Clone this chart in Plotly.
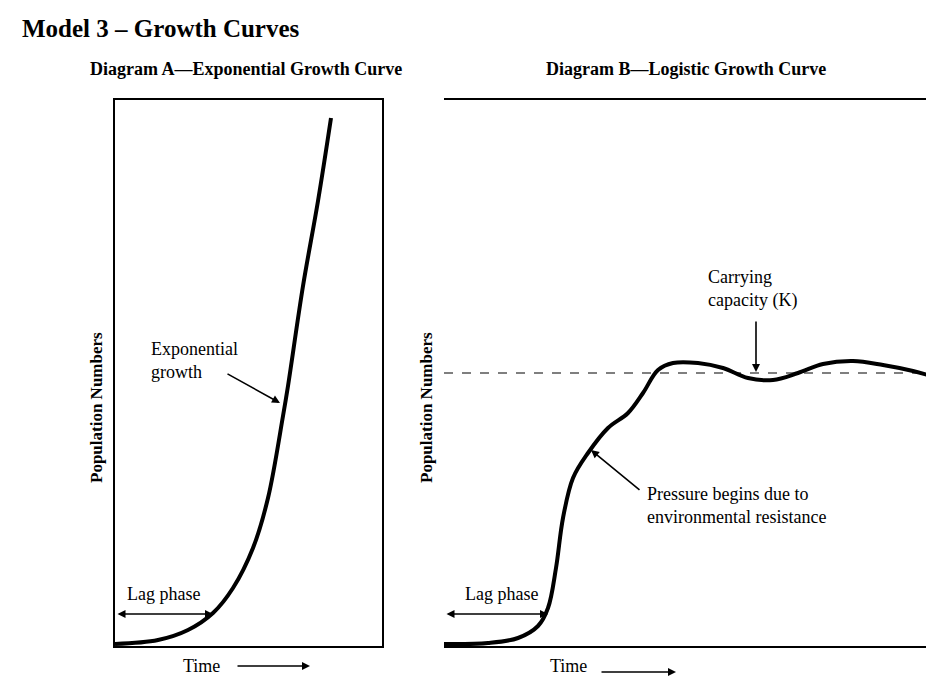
import plotly.graph_objects as go

W, H = 934, 676
FONT = "Liberation Serif"

# curve values (time units, population units)
a_time = [0, 43, 73, 98, 118, 138, 153, 168, 173, 188, 203, 216]
a_pop = [2, 6, 16, 33, 58, 98, 148, 230, 260, 360, 445, 528]

b_time = [0, 44, 74, 94, 104, 112, 119, 129, 144, 164, 184, 199, 214, 229,
          254, 279, 304, 329, 354, 379, 409, 439, 469, 494]
b_pop = [2, 3, 8, 20, 38, 78, 128, 168, 193, 218, 233, 253, 276, 283,
         283, 278, 268, 266, 273, 282, 285, 281, 275, 268]
capacity = 273


def px(x):
    return x / W


def py(y):
    return 1 - y / H


fig = go.Figure()
fig.add_trace(go.Scatter(x=a_time, y=a_pop, mode="lines", line=dict(color="black", width=4, shape="spline"),
                         xaxis="x", yaxis="y", showlegend=False))
fig.add_trace(go.Scatter(x=b_time, y=b_pop, mode="lines", line=dict(color="black", width=4, shape="spline"),
                         xaxis="x2", yaxis="y2", showlegend=False))
fig.add_trace(go.Scatter(x=[0, 494], y=[capacity, capacity], mode="lines",
                         line=dict(color="black", width=1.2, dash="dash"),
                         xaxis="x2", yaxis="y2", showlegend=False))

ax = dict(showgrid=False, zeroline=False, showticklabels=False, ticks="",
          showline=True, linecolor="black", linewidth=1.5, mirror=True)
fig.update_layout(
    width=W, height=H, margin=dict(l=0, r=0, t=0, b=0),
    paper_bgcolor="white", plot_bgcolor="white",
    font=dict(family=FONT, color="black"),
    xaxis=dict(ax, domain=[px(107), px(374)], range=[0, 267]),
    yaxis=dict(ax, domain=[py(638), py(92)], range=[0, 546]),
    xaxis2=dict(ax, domain=[px(436), px(930)], range=[0, 494]),
    yaxis2=dict(ax, domain=[py(638), py(92)], range=[0, 546]),
)


def text(x, y, s, size=17, bold=False, angle=0, xanchor="center"):
    fig.add_annotation(xref="paper", yref="paper", x=px(x), y=py(y), text=f"<b>{s}</b>" if bold else s,
                       showarrow=False, font=dict(size=size, family=FONT), textangle=angle,
                       xanchor=xanchor, yanchor="middle", align="left")


def arrow(x0, y0, x1, y1, both=False):
    fig.add_annotation(xref="paper", yref="paper", axref="pixel", ayref="pixel",
                       x=px(x1), y=py(y1), ax=x0 - x1, ay=y0 - y1, text="", showarrow=True,
                       arrowhead=2, arrowsize=1, arrowwidth=1.6, arrowcolor="black",
                       arrowside="end+start" if both else "end", standoff=0, startstandoff=0)


text(12, 20, "Model 3 – Growth Curves", size=25, bold=True, xanchor="left")
text(238, 61, "Diagram A—Exponential Growth Curve", size=18, bold=True)
text(678, 61, "Diagram B—Logistic Growth Curve", size=18, bold=True)
text(88, 400, "Population Numbers", size=17, bold=True, angle=-90)
text(418, 400, "Population Numbers", size=17, bold=True, angle=-90)

text(141, 352, "Exponential<br>growth", size=18, xanchor="left")
arrow(218, 365, 272, 395)
text(117, 586, "Lag phase", size=18, xanchor="left")
arrow(108, 606, 205, 606, both=True)
text(193, 658, "Time", size=18)
arrow(228, 658, 302, 658)

text(455, 586, "Lag phase", size=18, xanchor="left")
arrow(437, 606, 540, 606, both=True)
text(560, 658, "Time", size=18)
arrow(592, 664, 668, 664)
text(637, 497, "Pressure begins due to<br>environmental resistance", size=18, xanchor="left")
arrow(633, 483, 583, 442)
text(698, 281, "Carrying<br>capacity (K)", size=18, xanchor="left")
arrow(748, 312, 748, 364)

fig.write_html("out.html")
